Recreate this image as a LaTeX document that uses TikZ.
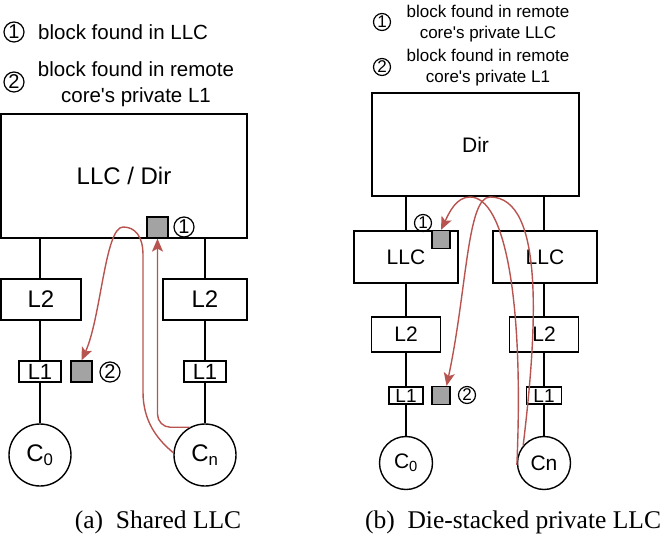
\documentclass[tikz,border=0pt]{standalone}
\usepackage{fontspec}
\setmainfont{Liberation Sans}[Ligatures=TeXOff]
\newfontfamily\capfont{Liberation Serif}
\usetikzlibrary{arrows.meta,calc}
\definecolor{redline}{HTML}{B85450}
\definecolor{blockgray}{HTML}{A3A3A3}
\newcommand{\fs}[1]{\fontsize{#1}{#1}\selectfont}

\tikzset{
  box/.style={draw, line width=1.4pt, fill=white, inner sep=0pt},
  blk/.style={draw, line width=1.2pt, fill=blockgray, minimum size=#1, inner sep=0pt},
  core/.style={draw, circle, line width=1.4pt, inner sep=0pt, minimum size=#1},
  wire/.style={line width=1.4pt},
  msg/.style={redline, line width=1.4pt},
  tip/.style={-{Stealth[length=13pt, width=11pt, inset=3pt]}},
  num/.style={draw, circle, line width=1.2pt, inner sep=0pt, minimum size=#1,
    font=\fs{#1}},
}

\begin{document}
\begin{tikzpicture}[x=1pt, y=-1pt]
  \useasboundingbox (0,0) rectangle (670,536);

  % ---------------- (a) Shared LLC ----------------
  % Legenda
  \node[num=20] (la1) at (14,32) {1};
  \node[anchor=west, font=\fs{20.5}, inner sep=0pt] (lt1) at (38,32) {block found in LLC};
  \node[num=20] (la2) at (14,82) {2};
  \node[align=center, font=\fontsize{20.5}{26}\selectfont, inner sep=0pt] (lt2) at (136,84)
    {block found in remote\\core's private L1};

  % Blocchi
  \node[box, minimum width=246, minimum height=124, font=\fs{24}] (llc) at (124,176) {LLC / Dir};
  \node[core=62, font=\fs{24}] (c0) at (40,455) {C\textsubscript{0}};
  \node[core=62, font=\fs{24}] (cn) at (205,455) {C\textsubscript{n}};

  % Collegamenti
  \draw[wire] (c0.north) -- (c0.north |- llc.south);
  \draw[wire] (cn.north) -- (cn.north |- llc.south);
  \node[box, minimum width=80, minimum height=41, font=\fs{24}] (l2a) at (41,299.5) {L2};
  \node[box, minimum width=84, minimum height=41, font=\fs{24}] (l2b) at (205,299.5) {L2};
  \node[box, minimum width=42, minimum height=21, font=\fs{22}] (l1a) at (40,371.5) {L1};
  \node[box, minimum width=42, minimum height=21, font=\fs{22}] (l1b) at (205,371.5) {L1};

  % Blocchi trovati
  \node[blk=21] (sq1) at (157.5,227.5) {};
  \node[num=20] (n1) at (184,227) {1};
  \node[blk=21] (sq2) at (81.5,371.5) {};
  \node[num=20] (n2) at (110,372) {2};

  % Percorsi
  \coordinate (pa) at (123,227);
  \draw[msg, tip] (cn.176) .. controls (158,440) and (143,422) .. (143,392)
    -- (143,255) .. controls (143,236) and (135,227) .. (pa)
    .. controls (105,227) and (101,318) .. (sq2.north);
  \draw[msg, tip, rounded corners=13pt] (cn.119) -- (cn.119 -| sq1.south) -- (sq1.south);

  % Didascalia
  \node[font=\capfont\fs{25.5}] (capa) at (158,522) {(a)\enspace Shared LLC};

  % ---------------- (b) Die-stacked private LLC ----------------
  % Legenda
  \node[num=17] (lb1) at (382,22) {1};
  \node[align=center, font=\fontsize{17}{21}\selectfont, inner sep=0pt] (lt3) at (488,24)
    {block found in remote\\core's private LLC};
  \node[num=17] (lb2) at (382,67) {2};
  \node[align=center, font=\fontsize{17}{21}\selectfont, inner sep=0pt] (lt4) at (488,68)
    {block found in remote\\core's private L1};

  % Blocchi
  \node[box, minimum width=207, minimum height=103, font=\fs{21}] (dir) at (475.5,144.5) {Dir};
  \node[core=53, font=\fs{21}] (c0b) at (406,463) {C\textsubscript{0}};
  \node[core=53, font=\fs{21}] (cnb) at (544,463) {Cn};
  \draw[wire] (c0b.north) -- (c0b.north |- dir.south);
  \draw[wire] (cnb.north) -- (cnb.north |- dir.south);
  \node[box, minimum width=104, minimum height=52, font=\fs{21}] (llca) at (406,257) {LLC};
  \node[box, minimum width=104, minimum height=52, font=\fs{21}] (llcb) at (545,257) {LLC};
  \node[box, minimum width=69, minimum height=35, font=\fs{21}] (l2c) at (406,334.5) {L2};
  \node[box, minimum width=69, minimum height=35, font=\fs{21}] (l2d) at (544,334.5) {L2};
  \node[box, minimum width=34, minimum height=17, font=\fs{19}] (l1c) at (406,395.5) {L1};
  \node[box, minimum width=35, minimum height=17, font=\fs{19}] (l1d) at (544,395.5) {L1};

  % Blocchi trovati
  \node[blk=18] (sq3) at (441,239.5) {};
  \node[num=17] (n3) at (423,223) {1};
  \node[blk=18] (sq4) at (441,395.5) {};
  \node[num=17] (n4) at (467,395) {2};

  % Percorsi
  \coordinate (pb) at (470,197);
  \coordinate (pc) at (490,197);
  \draw[msg, tip] (cnb.184) .. controls (524,300) and (505,197) .. (pb)
    .. controls (456,197) and (449,213) .. (sq3.north);
  \draw[msg, tip] (cnb.140) .. controls (537,330) and (545,197) .. (pc)
    .. controls (467,197) and (467,290) .. (sq4.60);

  % Didascalia
  \node[font=\capfont\fs{25.5}] (capb) at (513,522) {(b)\enspace Die-stacked private LLC};
\end{tikzpicture}
\end{document}
